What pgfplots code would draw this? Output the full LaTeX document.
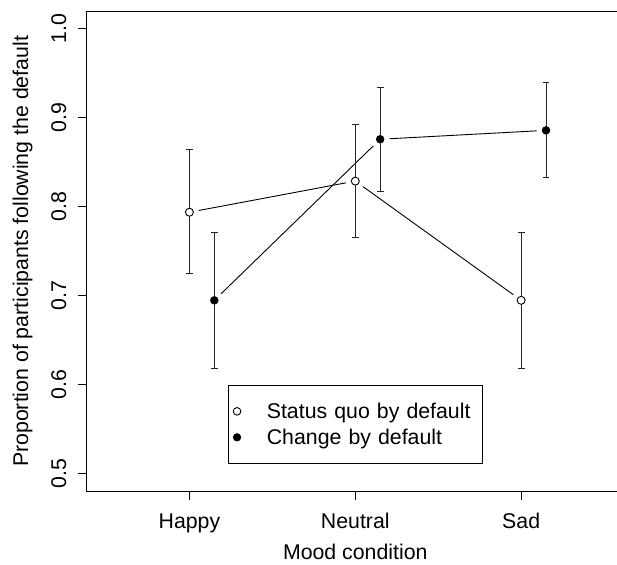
\documentclass[border=0pt]{standalone}
\usepackage{fontspec}
\setmainfont{Liberation Sans}
\usepackage{pgfplots}
\pgfplotsset{compat=1.18}
\usepackage{pgfplotstable}

% x = mood position (change-by-default offset by 0.15), y = proportion, ep/em = CI upper/lower
\pgfplotstableread{
x    y     ep    em
1    0.794 0.070 0.069
2    0.829 0.064 0.063
3    0.695 0.076 0.077
}\statusquo
\pgfplotstableread{
x    y     ep    em
1.15 0.695 0.076 0.077
2.15 0.876 0.058 0.059
3.15 0.886 0.054 0.053
}\change

\begin{document}
\begin{tikzpicture}[font=\fontsize{10.65}{12.8}\selectfont]
\begin{axis}[
    at={(0pt,0pt)}, anchor=south west,
    scale only axis, width=268.7pt, height=240.3pt,
    xmin=0.38, xmax=3.62, ymin=0.48, ymax=1.02,
    xtick={1,2,3}, xticklabels={Happy,Neutral,Sad},
    ytick={0.5,0.6,0.7,0.8,0.9,1.0},
    xtick pos=bottom, ytick pos=left,
    tick align=outside, major tick length=4.25pt,
    tick style={black, line width=0.5pt},
    axis line style={black, line width=0.55pt},
    yticklabel style={/pgf/number format/fixed, /pgf/number format/fixed zerofill,
        /pgf/number format/precision=1, /pgf/number format/assume math mode=true,
        xshift=-6pt, rotate=90, anchor=base},
    xticklabel style={anchor=base, yshift=-14.4pt},
    xlabel={Mood condition},
    ylabel={Proportion of participants following the default},
    every axis x label/.style={at={(axis description cs:0.5,-0.1421)}, anchor=base},
    every axis y label/.style={at={(axis description cs:-0.1090,0.5)}, anchor=base, rotate=90},
    legend image code/.code={\draw[#1] plot coordinates {(0pt,0pt)};},
    legend cell align=left,
    legend style={at={(axis description cs:0.2637,0.2220)}, anchor=north west,
        draw=black, line width=0.55pt, fill=white,
        inner xsep=2.2pt, inner ysep=6.4pt, row sep=0pt, column sep=13pt,
        nodes={inner sep=0pt, text height=10.31pt, text depth=2.69pt,
            text width=105.8pt, align=left}},
]
% connecting lines (type "b": gaps around the points)
\addplot[forget plot, black, line width=0.45pt, shorten >=4.75pt, shorten <=4.75pt,
    skip coords between index={2}{3}] table[x=x, y=y] {\statusquo};
\addplot[forget plot, black, line width=0.45pt, shorten >=4.75pt, shorten <=4.75pt,
    skip coords between index={0}{1}] table[x=x, y=y] {\statusquo};
\addplot[forget plot, black, line width=0.45pt, shorten >=4.75pt, shorten <=4.75pt,
    skip coords between index={2}{3}] table[x=x, y=y] {\change};
\addplot[forget plot, black, line width=0.45pt, shorten >=4.75pt, shorten <=4.75pt,
    skip coords between index={0}{1}] table[x=x, y=y] {\change};

% error bars with points
\addplot[forget plot, only marks, mark=*, mark size=2.0pt,
    mark options={fill=white, draw=black, line width=0.45pt},
    error bars/.cd, y dir=both, y explicit,
    error bar style={black!85, line width=0.5pt},
    error mark=-, error mark options={black!85, rotate=90, mark size=1.7pt, line width=0.5pt}]
    table[x=x, y=y, y error plus=ep, y error minus=em] {\statusquo};
\addplot[forget plot, only marks, mark=*, mark size=1.9pt,
    mark options={fill=black, draw=black, line width=0.4pt},
    error bars/.cd, y dir=both, y explicit,
    error bar style={black!85, line width=0.5pt},
    error mark=-, error mark options={black!85, rotate=90, mark size=1.7pt, line width=0.5pt}]
    table[x=x, y=y, y error plus=ep, y error minus=em] {\change};

\addlegendimage{only marks, mark=*, mark size=1.9pt, mark options={fill=white, draw=black, line width=0.45pt}}
\addlegendentry{Status quo by default}
\addlegendimage{only marks, mark=*, mark size=1.85pt, mark options={fill=black, draw=black, line width=0.4pt}}
\addlegendentry{Change by default}
\end{axis}
\pgfresetboundingbox
\path[use as bounding box] (-43.3pt,-36.65pt) rectangle (265.2pt,245.85pt);
\end{tikzpicture}
\end{document}
